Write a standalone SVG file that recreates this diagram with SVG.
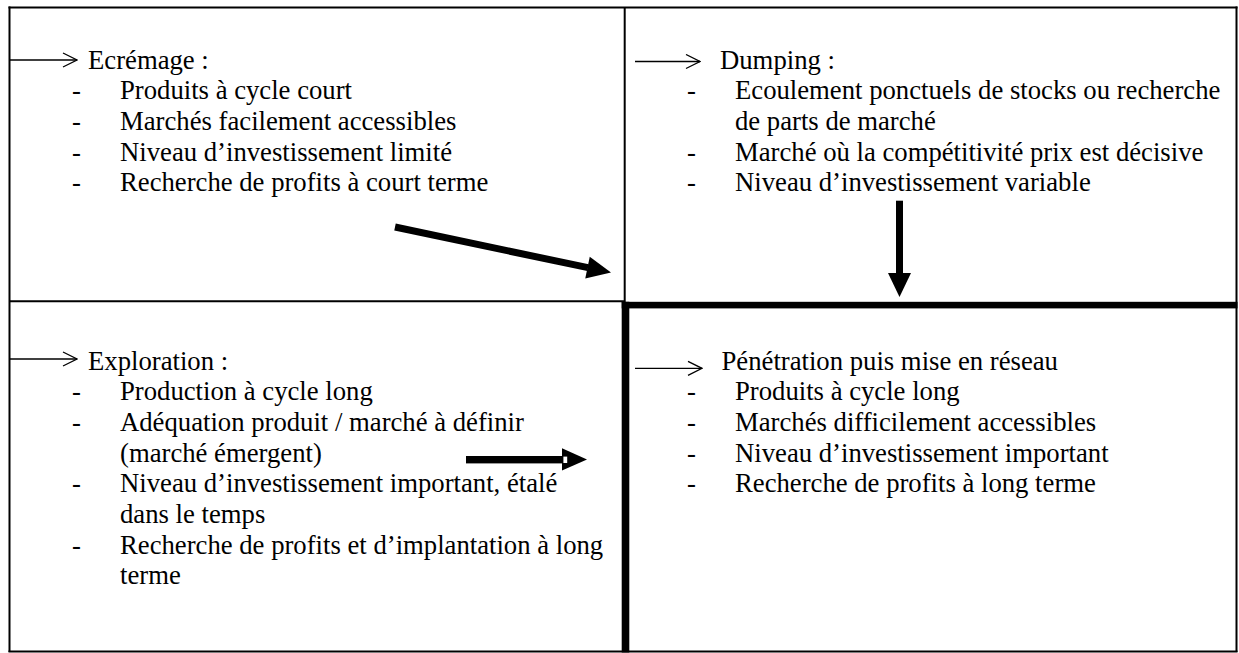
<svg xmlns="http://www.w3.org/2000/svg" width="1239" height="653" viewBox="0 0 1239 653">
<defs>
<style>
text{font-family:"Liberation Serif","Times New Roman",serif;font-size:26.7px;fill:#000}
.thin{stroke:#000;stroke-width:2;fill:none}
.ptr{stroke:#000;stroke-width:1.3;fill:none}
.thick{stroke:#000;stroke-width:7;fill:none}
</style>
<marker id="chev" markerUnits="userSpaceOnUse" markerWidth="16" markerHeight="16" viewBox="0 0 16 16" refX="15" refY="8" orient="auto">
<path d="M1,1 L15,8 L1,15" fill="none" stroke="#000" stroke-width="1.3"/>
</marker>
</defs>
<rect width="1239" height="653" fill="#fff"/>
<g id="grid">
<line class="thin" x1="8.5" y1="7.5" x2="1237.5" y2="7.5"/>
<line class="thin" x1="9.5" y1="6.5" x2="9.5" y2="652"/>
<line class="thin" x1="1236.5" y1="6.5" x2="1236.5" y2="652"/>
<line class="thin" x1="8.5" y1="651.5" x2="1237.5" y2="651.5"/>
<line class="thin" x1="624.7" y1="7.5" x2="624.7" y2="302"/>
<line class="thin" x1="9.5" y1="301.3" x2="624" y2="301.3"/>
<rect x="621.7" y="301.8" width="615.8" height="6.6" fill="#000"/>
<rect x="621.7" y="301.8" width="7.6" height="350.7" fill="#000"/>
</g>
<g id="ecremage">
<line class="ptr" x1="10" y1="60" x2="77" y2="60" marker-end="url(#chev)"/>
<text x="88" y="68.5">Ecrémage :</text>
<text x="72" y="99.2">-</text><text x="120" y="99.2">Produits à cycle court</text>
<text x="72" y="129.9">-</text><text x="120" y="129.9">Marchés facilement accessibles</text>
<text x="72" y="160.6">-</text><text x="120" y="160.6">Niveau d’investissement limité</text>
<text x="72" y="191.3">-</text><text x="120" y="191.3">Recherche de profits à court terme</text>
</g>
<g id="dumping">
<line class="ptr" x1="635" y1="61.5" x2="700" y2="61.5" marker-end="url(#chev)"/>
<text x="720" y="68.5">Dumping :</text>
<text x="687" y="99.2">-</text><text x="735" y="99.2">Ecoulement ponctuels de stocks ou recherche</text>
<text x="735" y="129.9">de parts de marché</text>
<text x="687" y="160.6">-</text><text x="735" y="160.6">Marché où la compétitivité prix est décisive</text>
<text x="687" y="191.3">-</text><text x="735" y="191.3">Niveau d’investissement variable</text>
</g>
<g id="exploration">
<line class="ptr" x1="10" y1="359" x2="77" y2="359" marker-end="url(#chev)"/>
<text x="88" y="369.5">Exploration :</text>
<text x="72" y="400.2">-</text><text x="120" y="400.2">Production à cycle long</text>
<text x="72" y="430.9">-</text><text x="120" y="430.9">Adéquation produit / marché à définir</text>
<text x="120" y="461.6">(marché émergent)</text>
<text x="72" y="492.3">-</text><text x="120" y="492.3">Niveau d’investissement important, étalé</text>
<text x="120" y="523">dans le temps</text>
<text x="72" y="553.7">-</text><text x="120" y="553.7">Recherche de profits et d’implantation à long</text>
<text x="120" y="584.4">terme</text>
</g>
<g id="penetration">
<line class="ptr" x1="635" y1="368.3" x2="702" y2="368.3" marker-end="url(#chev)"/>
<text x="721.5" y="369.5">Pénétration puis mise en réseau</text>
<text x="687" y="400.2">-</text><text x="735" y="400.2">Produits à cycle long</text>
<text x="687" y="430.9">-</text><text x="735" y="430.9">Marchés difficilement accessibles</text>
<text x="687" y="461.6">-</text><text x="735" y="461.6">Niveau d’investissement important</text>
<text x="687" y="492.3">-</text><text x="735" y="492.3">Recherche de profits à long terme</text>
</g>
<g id="connectors">
<line class="thick" x1="395" y1="227" x2="588" y2="267.7"/>
<polygon points="589.75,256.8 611,272.5 585.25,278.4" fill="#000"/>
<rect x="896" y="200.7" width="7" height="73" fill="#000"/>
<polygon points="888,273 911,273 899.5,297" fill="#000"/>
<rect x="466" y="456" width="97.5" height="7.4" fill="#000"/>
<polygon points="562,448.3 587,459.5 562,470.6" fill="#000"/>
<rect x="563.4" y="456.6" width="3.8" height="6.4" fill="#fff"/>
</g>
</svg>
